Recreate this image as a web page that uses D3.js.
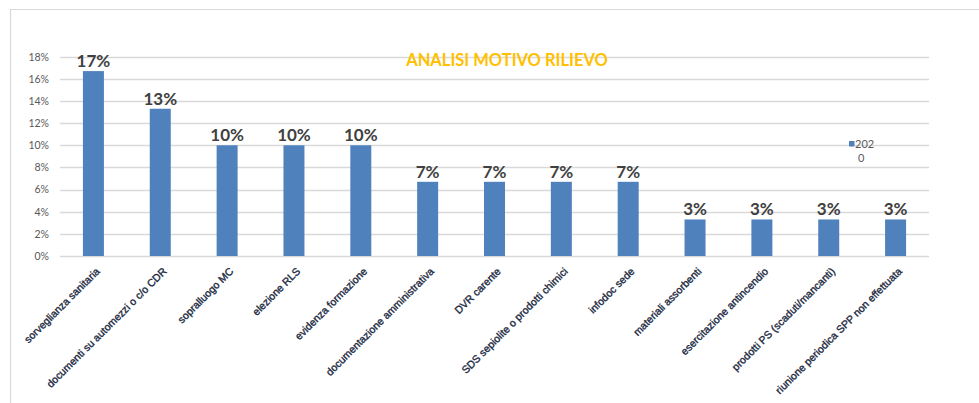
<!DOCTYPE html>
<html>
<head>
<meta charset="utf-8">
<script src="https://cdn.jsdelivr.net/npm/d3@7"></script>
<style>
  body { margin: 0; background: #fff; }
  svg { display: block; }
</style>
</head>
<body>
<script>
// data
var categories = [
    "sorveglianza sanitaria",
    "documenti su automezzi o c/o CDR",
    "sopralluogo MC",
    "elezione RLS",
    "evidenza formazione",
    "documentazione amministrativa",
    "DVR carente",
    "SDS sepiolite o prodotti chimici",
    "infodoc sede",
    "materiali assorbenti",
    "esercitazione antincendio",
    "prodotti PS (scaduti/mancanti)",
    "riunione periodica SPP non effettuata"
];
var values2020 = [0.167, 0.133, 0.10, 0.10, 0.10, 0.067, 0.067, 0.067, 0.067, 0.033, 0.033, 0.033, 0.033];
var yTicks = [0, 0.02, 0.04, 0.06, 0.08, 0.10, 0.12, 0.14, 0.16, 0.18];
var legendLines = ["202", "0"];
var title = "ANALISI MOTIVO RILIEVO";

var width = 979, height = 403;
var calibri = "Lato, 'Open Sans', sans-serif";

var svg = d3.select("body").append("svg")
    .attr("width", width)
    .attr("height", height);

// frame of the chart area
svg.append("path")
    .attr("d", "M10.5," + height + "V9.5H" + width)
    .attr("fill", "none")
    .attr("stroke", "#d9d9d9")
    .attr("stroke-width", 1.2);

var x = d3.scaleBand()
    .domain(categories)
    .range([60, 929])
    .paddingInner(0.686)
    .paddingOuter(0.343);

var y = d3.scaleLinear()
    .domain([0, 0.18])
    .range([256, 56.7]);

// gridlines
svg.append("g")
    .selectAll("line")
    .data(yTicks)
    .enter().append("line")
    .attr("x1", 60)
    .attr("x2", 929)
    .attr("y1", function(d) { return Math.round(y(d)) + 0.5; })
    .attr("y2", function(d) { return Math.round(y(d)) + 0.5; })
    .attr("stroke", "#d9d9d9")
    .attr("stroke-width", 1.3);

// y axis labels
var yAxis = d3.axisLeft(y)
    .tickValues(yTicks)
    .tickFormat(d3.format(".0%"))
    .tickSize(0)
    .tickPadding(0);

var yg = svg.append("g")
    .attr("transform", "translate(49,0)")
    .call(yAxis);
yg.select(".domain").remove();
yg.selectAll("text")
    .attr("fill", "#595959")
    .style("font-family", calibri)
    .style("font-size", "10.5px");

// title
svg.append("text")
    .attr("x", 507)
    .attr("y", 65.5)
    .attr("text-anchor", "middle")
    .attr("fill", "#ffc000")
    .style("font-family", calibri)
    .style("font-weight", "bold")
    .style("font-size", "16.5px")
    .text(title);

// bars
svg.append("g")
    .selectAll("rect")
    .data(values2020)
    .enter().append("rect")
    .attr("x", function(d, i) { return x(categories[i]); })
    .attr("y", function(d) { return y(d); })
    .attr("width", x.bandwidth())
    .attr("height", function(d) { return y(0) - y(d); })
    .attr("fill", "#4f81bd");

// value labels
svg.append("g")
    .selectAll("text")
    .data(values2020)
    .enter().append("text")
    .attr("x", function(d, i) { return x(categories[i]) + x.bandwidth() / 2; })
    .attr("y", function(d) { return y(d) - 4; })
    .attr("text-anchor", "middle")
    .attr("fill", "#404040")
    .style("font-family", calibri)
    .style("font-weight", "bold")
    .style("font-size", "17px")
    .text(function(d) { return Math.round(d * 100) + "%"; });

// category labels, rotated
svg.append("g")
    .selectAll("text")
    .data(categories)
    .enter().append("text")
    .attr("transform", function(d) {
        return "translate(" + (x(d) + x.bandwidth() / 2 + 7) + ",272) rotate(-45)";
    })
    .attr("text-anchor", "end")
    .attr("fill", "#1a2840")
    .attr("stroke", "#1a2840")
    .attr("stroke-width", 0.35)
    .style("font-family", "'Liberation Sans', Arial, sans-serif")
    .style("font-size", "10.5px")
    .text(function(d) { return d; });

// legend
var legend = svg.append("g").attr("transform", "translate(849,141)");
legend.append("rect")
    .attr("width", 5.5)
    .attr("height", 5.5)
    .attr("fill", "#4f81bd");
legend.selectAll("text")
    .data(legendLines)
    .enter().append("text")
    .attr("x", function(d, i) { return i === 0 ? 6 : 9; })
    .attr("y", function(d, i) { return 6.5 + i * 14; })
    .attr("fill", "#595959")
    .style("font-family", calibri)
    .style("font-size", "11px")
    .text(function(d) { return d; });
</script>
</body>
</html>
